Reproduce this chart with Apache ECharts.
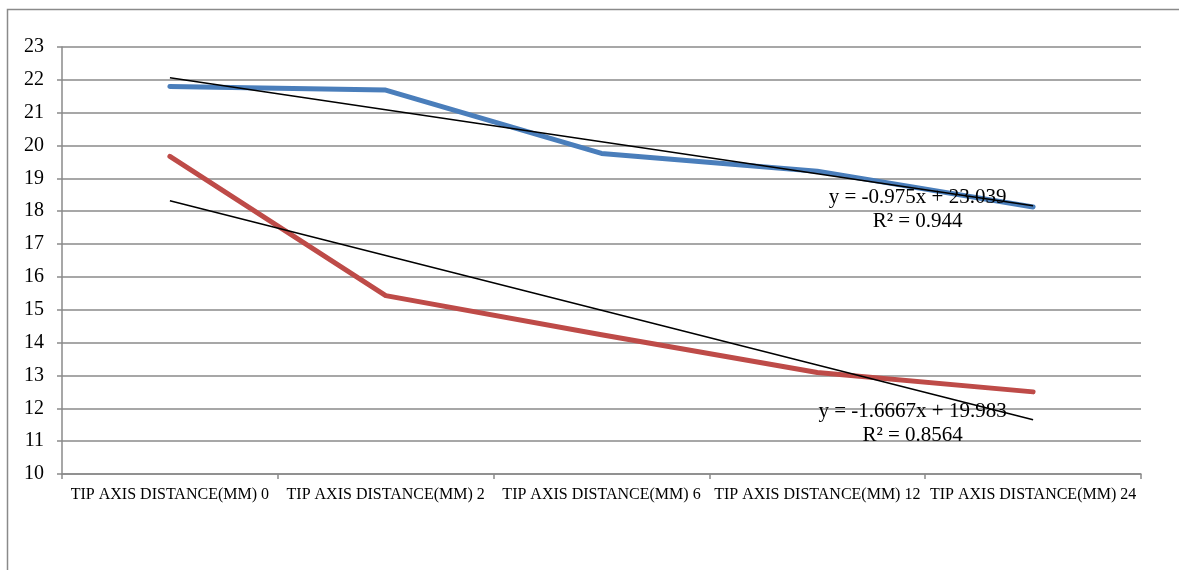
<!DOCTYPE html>
<html>
<head>
<meta charset="utf-8">
<script src="https://cdn.jsdelivr.net/npm/echarts@6/dist/echarts.min.js"></script>
<style>
  html, body { margin: 0; padding: 0; background: #fff; }
  #chart { width: 1179px; height: 570px; }
</style>
</head>
<body>
<div id="chart"></div>
<script>
// Categories along the x axis
const categories = [
  'TIP AXIS DISTANCE(MM) 0',
  'TIP AXIS DISTANCE(MM) 2',
  'TIP AXIS DISTANCE(MM) 6',
  'TIP AXIS DISTANCE(MM) 12',
  'TIP AXIS DISTANCE(MM) 24'
];

// Measured series
const blueValues = [21.80, 21.69, 19.76, 19.22, 18.13];
const redValues = [19.67, 15.43, 14.24, 13.09, 12.50];

// Linear trendline coefficients (slope, intercept) and R² as printed
const blueTrend = [-0.975, 23.039];
const blueR2 = '0.944';
const redTrend = [-1.6667, 19.983];
const redR2 = '0.8564';

// Y axis range
const yTicks = [10, 23, 1];

const serif = '"Liberation Serif", "Times New Roman", serif';

function trendValues(coef) {
  return categories.map((c, i) => +(coef[0] * (i + 1) + coef[1]).toFixed(4));
}

function eqText(coef, r2) {
  const b = coef[1] >= 0 ? ' + ' + coef[1] : ' - ' + Math.abs(coef[1]);
  return 'y = ' + coef[0] + 'x' + b + '\nR² = ' + r2;
}

// Trendline with its equation placed near the right end
function trendSeries(coef, r2, offset) {
  const vals = trendValues(coef);
  const last = vals.length - 1;
  return {
    type: 'line',
    data: vals,
    symbol: 'none',
    lineStyle: { color: '#000', width: 1.5 },
    z: 4,
    markPoint: {
      silent: true,
      animation: false,
      data: [{
        coord: [last, vals[last]],
        symbol: 'circle',
        symbolSize: 1,
        itemStyle: { color: 'rgba(0,0,0,0)' },
        label: {
          show: true,
          formatter: eqText(coef, r2),
          position: offset,
          align: 'center',
          verticalAlign: 'middle',
          fontFamily: serif,
          fontSize: 21,
          lineHeight: 24,
          color: '#000'
        }
      }]
    }
  };
}

const chart = echarts.init(document.getElementById('chart'), null, { renderer: 'canvas' });

chart.setOption({
  animation: false,
  backgroundColor: '#fff',
  graphic: [{
    type: 'rect',
    shape: { x: 7.5, y: 9.5, width: 1200, height: 600 },
    style: { fill: 'none', stroke: '#8a8a8a', lineWidth: 1.5 },
    silent: true,
    z: 0
  }],
  grid: { left: 62, right: 38, top: 47, bottom: 96 },
  xAxis: {
    type: 'category',
    data: categories,
    boundaryGap: true,
    axisLine: { show: true, lineStyle: { color: '#8a8a8a', width: 1.5 } },
    axisTick: { show: true, length: 5, alignWithLabel: false, lineStyle: { color: '#8a8a8a', width: 1.5 } },
    axisLabel: { fontFamily: serif, fontSize: 16, color: '#000', margin: 13, interval: 0 },
    splitLine: { show: false }
  },
  yAxis: {
    type: 'value',
    min: yTicks[0],
    max: yTicks[1],
    interval: yTicks[2],
    axisLine: { show: true, lineStyle: { color: '#8a8a8a', width: 1.5 } },
    axisTick: { show: true, length: 5, lineStyle: { color: '#8a8a8a', width: 1.5 } },
    axisLabel: { fontFamily: serif, fontSize: 20, color: '#000', margin: 18 },
    splitLine: { show: true, lineStyle: { color: '#8a8a8a', width: 1.5 } }
  },
  series: [
    {
      type: 'line',
      data: blueValues,
      symbol: 'none',
      lineStyle: { color: '#4a7ebb', width: 5, cap: 'round', join: 'round' },
      z: 3
    },
    {
      type: 'line',
      data: redValues,
      symbol: 'none',
      lineStyle: { color: '#be4b48', width: 5, cap: 'round', join: 'round' },
      z: 3
    },
    trendSeries(blueTrend, blueR2, [-115, 4]),
    trendSeries(redTrend, redR2, [-120, 4])
  ]
});
</script>
</body>
</html>
